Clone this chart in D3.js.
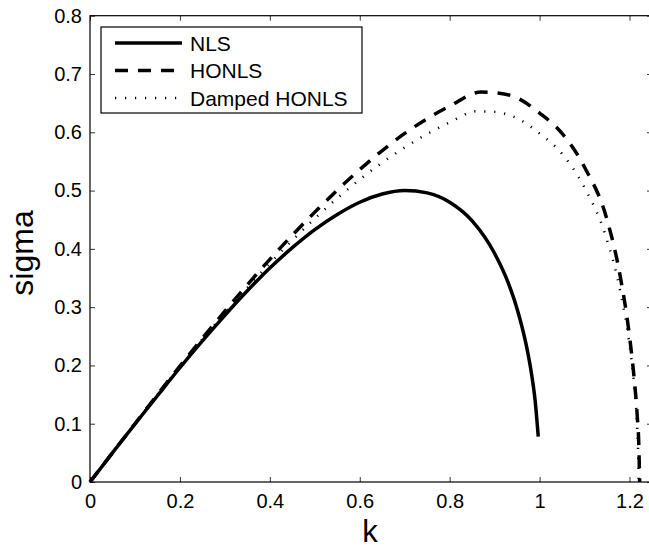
<!DOCTYPE html>
<html>
<head>
<meta charset="utf-8">
<script src="https://cdn.jsdelivr.net/npm/d3@7"></script>
<style>
  body { margin: 0; background: white; }
  svg { display: block; font-family: "Liberation Sans", Arial, sans-serif; }
  .tick line { stroke: #333; }
</style>
</head>
<body>
<svg width="649" height="550"></svg>
<script>
// values
const nlsK     = [0, 0.05, 0.1, 0.15, 0.2, 0.25, 0.3, 0.35, 0.4, 0.45, 0.5, 0.55, 0.6, 0.65, 0.7, 0.75, 0.8, 0.85, 0.9, 0.93, 0.95, 0.97, 0.98, 0.99, 0.997];
const nlsSigma = [0, 0.050, 0.0995, 0.148, 0.196, 0.242, 0.286, 0.328, 0.367, 0.402, 0.433, 0.459, 0.480, 0.494, 0.500, 0.496, 0.480, 0.448, 0.392, 0.342, 0.297, 0.236, 0.195, 0.140, 0.078];

const honlsK     = [0, 0.1, 0.2, 0.3, 0.4, 0.5, 0.6, 0.7, 0.8, 0.87, 0.9, 0.95, 1.0, 1.05, 1.1, 1.15, 1.18, 1.2, 1.21, 1.217, 1.221, 1.2225];
const honlsSigma = [0, 0.100, 0.199, 0.293, 0.382, 0.463, 0.536, 0.598, 0.645, 0.669, 0.668, 0.659, 0.633, 0.598, 0.540, 0.450, 0.350, 0.250, 0.180, 0.115, 0.055, 0];

const dampedK     = [0, 0.1, 0.2, 0.3, 0.4, 0.5, 0.6, 0.7, 0.8, 0.86, 0.9, 0.95, 1.0, 1.05, 1.1, 1.15, 1.18, 1.2, 1.21, 1.216, 1.219, 1.2205];
const dampedSigma = [0, 0.100, 0.198, 0.290, 0.375, 0.452, 0.519, 0.574, 0.617, 0.636, 0.635, 0.624, 0.598, 0.563, 0.505, 0.415, 0.325, 0.235, 0.170, 0.110, 0.055, 0];

const xTicks = [0, 0.2, 0.4, 0.6, 0.8, 1, 1.2];
const xTickLabels = ['0', '0.2', '0.4', '0.6', '0.8', '1', '1.2'];
const yTicks = [0, 0.1, 0.2, 0.3, 0.4, 0.5, 0.6, 0.7, 0.8];
const yTickLabels = ['0', '0.1', '0.2', '0.3', '0.4', '0.5', '0.6', '0.7', '0.8'];

const seriesNames = ['NLS', 'HONLS', 'Damped HONLS'];

const svg = d3.select('svg');

const margin = { left: 90, top: 15.7, right: 652, bottom: 482 };

const xScale = d3.scaleLinear().domain([0, 1.25]).range([margin.left, margin.right]);
const yScale = d3.scaleLinear().domain([0, 0.8]).range([margin.bottom, margin.top]);

// axes, ticks pointing inward
const xAxis = d3.axisBottom(xScale)
      .tickValues(xTicks)
      .tickFormat((d, i) => xTickLabels[i])
      .tickSizeInner(-5).tickSizeOuter(0).tickPadding(12);
const xg = svg.append('g').attr('transform', `translate(0,${margin.bottom})`).call(xAxis);

const yAxis = d3.axisLeft(yScale)
      .tickValues(yTicks)
      .tickFormat((d, i) => yTickLabels[i])
      .tickSizeInner(-5).tickSizeOuter(0).tickPadding(8);
const yg = svg.append('g').attr('transform', `translate(${margin.left},0)`).call(yAxis);

const topg = svg.append('g').attr('transform', `translate(0,${margin.top})`)
      .call(d3.axisTop(xScale).tickValues(xTicks).tickFormat('').tickSizeInner(-5).tickSizeOuter(0));
const rightg = svg.append('g').attr('transform', `translate(${margin.right},0)`)
      .call(d3.axisRight(yScale).tickValues(yTicks).tickFormat('').tickSizeInner(-5).tickSizeOuter(0));

[xg, yg, topg, rightg].forEach(g => {
    g.select('.domain').remove();
    g.selectAll('text').attr('font-size', 20).attr('fill', 'black')
        .attr('font-family', '"Liberation Sans", Arial, sans-serif');
});

svg.append('rect')
    .attr('x', margin.left).attr('y', margin.top)
    .attr('width', margin.right - margin.left).attr('height', margin.bottom - margin.top)
    .attr('fill', 'none').attr('stroke', 'black').attr('stroke-width', 1.2);

// axis labels
svg.append('text')
    .attr('x', 370).attr('y', 542)
    .attr('text-anchor', 'middle').attr('font-size', 31)
    .text('k');
svg.append('text')
    .attr('transform', 'translate(33,253) rotate(-90)')
    .attr('text-anchor', 'middle').attr('font-size', 32)
    .text('sigma');

// curves
const line = d3.line()
      .x(d => xScale(d[0]))
      .y(d => yScale(d[1]))
      .curve(d3.curveMonotoneX);

const styles = [
    { dash: null },
    { dash: '13,10' },
    { dash: '1.2,8.8' }
];

const series = [
    d3.zip(nlsK, nlsSigma),
    d3.zip(honlsK, honlsSigma),
    d3.zip(dampedK, dampedSigma)
];

series.forEach((pts, i) => {
    svg.append('path')
        .datum(pts)
        .attr('d', line)
        .attr('fill', 'none')
        .attr('stroke', 'black')
        .attr('stroke-width', i === 2 ? 2.5 : 3.5)
        .attr('stroke-dasharray', styles[i].dash);
});

// legend
const legend = svg.append('g');
legend.append('rect')
    .attr('x', 101).attr('y', 27)
    .attr('width', 261).attr('height', 86)
    .attr('fill', 'white').attr('stroke', 'black').attr('stroke-width', 1.2);

seriesNames.forEach((name, i) => {
    const yy = 43 + i * 27.5;
    legend.append('line')
        .attr('x1', 115).attr('x2', 182)
        .attr('y1', yy).attr('y2', yy)
        .attr('stroke', 'black')
        .attr('stroke-width', i === 2 ? 2.5 : 3.5)
        .attr('stroke-dasharray', styles[i].dash);
    legend.append('text')
        .attr('x', 190).attr('y', yy)
        .attr('dy', '0.36em')
        .attr('font-size', 21)
        .text(name);
});
</script>
</body>
</html>
